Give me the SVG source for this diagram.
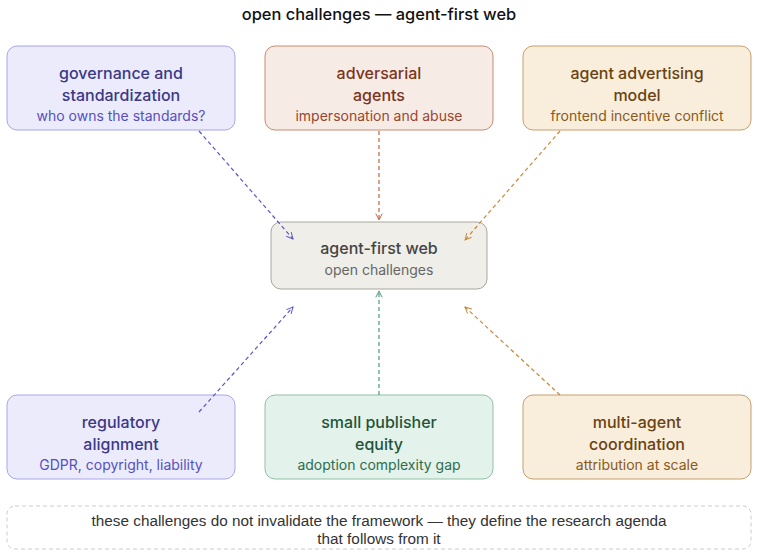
<svg xmlns="http://www.w3.org/2000/svg" width="759" height="556" viewBox="0 0 759 556">
<style>
text{font-family:Inter,"Liberation Sans",sans-serif;text-anchor:middle}
.t{font-size:16px;font-weight:500}
.s{font-size:14px}
.c{stroke-width:1.2;fill:none;stroke-dasharray:4 3}
.f{font-size:15.3px;fill:#333;font-family:"Liberation Sans",Arial,sans-serif}
.pu rect{fill:#ebebfb;stroke:#a9a6ea}.pu .t{fill:#3b3888}.pu .s{fill:#5650c0}
.re rect{fill:#f7ebe5;stroke:#c98b70}.re .t{fill:#7a3520}.re .s{fill:#9a4630}
.or rect{fill:#f8eedb;stroke:#c79f6c}.or .t{fill:#6a4212}.or .s{fill:#8a5a1e}
.gr rect{fill:#e3f2ea;stroke:#92c0a6}.gr .t{fill:#22543a}.gr .s{fill:#2e6e50}
</style>
<defs>
<marker id="mpu" viewBox="0 0 10 10" refX="9" refY="5" markerWidth="8" markerHeight="8" orient="auto" markerUnits="userSpaceOnUse"><path d="M1,1 L9,5 L1,9" fill="none" stroke="#5a55c8" stroke-width="1.2"/></marker>
<marker id="mre" viewBox="0 0 10 10" refX="9" refY="5" markerWidth="8" markerHeight="8" orient="auto" markerUnits="userSpaceOnUse"><path d="M1,1 L9,5 L1,9" fill="none" stroke="#c0643f" stroke-width="1.2"/></marker>
<marker id="mor" viewBox="0 0 10 10" refX="9" refY="5" markerWidth="8" markerHeight="8" orient="auto" markerUnits="userSpaceOnUse"><path d="M1,1 L9,5 L1,9" fill="none" stroke="#c8883a" stroke-width="1.2"/></marker>
<marker id="mgr" viewBox="0 0 10 10" refX="9" refY="5" markerWidth="8" markerHeight="8" orient="auto" markerUnits="userSpaceOnUse"><path d="M1,1 L9,5 L1,9" fill="none" stroke="#4a9a78" stroke-width="1.2"/></marker>
</defs>
<text x="379" y="20" style="font-size:16.4px;font-weight:500;fill:#111">open challenges — agent-first web</text>
<g id="governance" class="pu"><rect x="7" y="46" width="228" height="84" rx="10"/><text class="t" x="121" y="79">governance and</text><text class="t" x="121" y="101">standardization</text><text class="s" x="121" y="121">who owns the standards?</text></g>
<g id="adversarial" class="re"><rect x="265" y="46" width="228" height="84" rx="10"/><text class="t" x="379" y="79">adversarial</text><text class="t" x="379" y="101">agents</text><text class="s" x="379" y="121">impersonation and abuse</text></g>
<g id="advertising" class="or"><rect x="523" y="46" width="228" height="84" rx="10"/><text class="t" x="637" y="79">agent advertising</text><text class="t" x="637" y="101">model</text><text class="s" x="637" y="121">frontend incentive conflict</text></g>
<g id="center"><rect x="271" y="222" width="216" height="67" rx="10" fill="#f0eee8" stroke="#a8a69e"/><text class="t" x="379" y="254" fill="#444">agent-first web</text><text class="s" x="379" y="275" fill="#666">open challenges</text></g>
<g id="regulatory" class="pu"><rect x="7" y="395" width="228" height="84" rx="10"/><text class="t" x="121" y="428">regulatory</text><text class="t" x="121" y="450">alignment</text><text class="s" x="121" y="470">GDPR, copyright, liability</text></g>
<g id="publisher" class="gr"><rect x="265" y="395" width="228" height="84" rx="10"/><text class="t" x="379" y="428">small publisher</text><text class="t" x="379" y="450">equity</text><text class="s" x="379" y="470">adoption complexity gap</text></g>
<g id="coordination" class="or"><rect x="523" y="395" width="228" height="84" rx="10"/><text class="t" x="637" y="428">multi-agent</text><text class="t" x="637" y="450">coordination</text><text class="s" x="637" y="470">attribution at scale</text></g>
<g id="footer"><rect x="7" y="506" width="744" height="43" rx="8" fill="none" stroke="#ccc" stroke-dasharray="4 3"/><text class="f" x="379" y="526">these challenges do not invalidate the framework — they define the research agenda</text><text class="f" x="379" y="544">that follows from it</text></g>
<g id="connectors">
<path class="c" d="M199,131 L293,239" stroke="#5a55c8" marker-end="url(#mpu)"/>
<path class="c" d="M379,131 L379,220" stroke="#c0643f" marker-end="url(#mre)"/>
<path class="c" d="M560,131 L465,240" stroke="#c8883a" marker-end="url(#mor)"/>
<path class="c" d="M199,412 L293,307" stroke="#5a55c8" marker-end="url(#mpu)"/>
<path class="c" d="M379,395 L379,291" stroke="#4a9a78" marker-end="url(#mgr)"/>
<path class="c" d="M560,395 L465,307" stroke="#c8883a" marker-end="url(#mor)"/>
</g>
</svg>
